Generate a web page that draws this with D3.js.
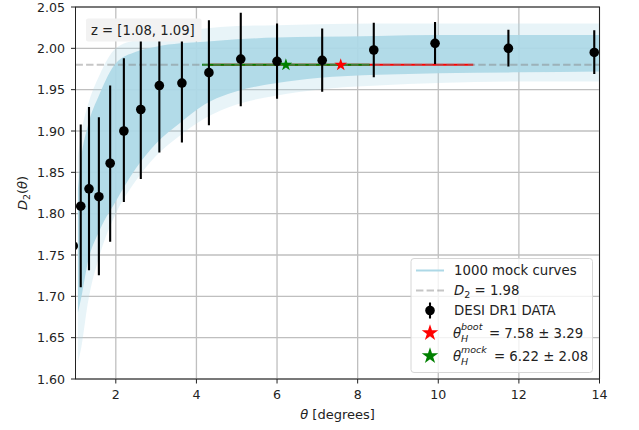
<!DOCTYPE html>
<html>
<head>
<meta charset="utf-8">
<script src="https://cdn.jsdelivr.net/npm/d3@7"></script>
<style>
body { margin: 0; background: #fff; }
svg { font-family: "DejaVu Sans", sans-serif; }
</style>
</head>
<body>
<svg id="chart" width="639" height="430"></svg>
<script>
// DESI DR1 points
var theta = [0.945, 1.13, 1.335, 1.58, 1.86, 2.2, 2.62, 3.08, 3.64, 4.31, 5.10, 6.0, 7.12, 8.40, 9.92, 11.74, 13.87];
var d2 = [1.761, 1.809, 1.830, 1.8205, 1.861, 1.900, 1.926, 1.955, 1.958, 1.9706, 1.987, 1.9843, 1.9855, 1.998, 2.006, 2.000, 1.995];
var d2Low = [1.66, 1.711, 1.7315, 1.7254, 1.766, 1.814, 1.842, 1.874, 1.886, 1.907, 1.930, 1.939, 1.9475, 1.965, 1.981, 1.978, 1.969];
var d2High = [1.86, 1.908, 1.929, 1.9166, 1.955, 1.988, 2.012, 2.03, 2.028, 2.034, 2.043, 2.030, 2.024, 2.031, 2.032, 2.0225, 2.022];

// envelope of the 1000 mock curves
var bandTheta = [1.06, 1.15, 1.3, 1.6, 2.0, 2.5, 3.0, 3.6, 4.2, 5, 6, 7, 8.5, 10, 12, 14];
var outerLo = [1.62, 1.64, 1.69, 1.75, 1.80, 1.84, 1.87, 1.895, 1.915, 1.932, 1.943, 1.95, 1.955, 1.958, 1.96, 1.96];
var innerLo = [1.68, 1.70, 1.74, 1.78, 1.815, 1.855, 1.885, 1.91, 1.932, 1.948, 1.958, 1.964, 1.968, 1.970, 1.971, 1.972];
var innerHi = [1.83, 1.87, 1.905, 1.945, 1.982, 1.996, 2.002, 2.006, 2.008, 2.011, 2.013, 2.014, 2.015, 2.016, 2.016, 2.016];
var outerHi = [1.87, 1.90, 1.93, 1.968, 2.0, 2.01, 2.015, 2.02, 2.024, 2.027, 2.028, 2.029, 2.03, 2.03, 2.03, 2.03];

var d2Plateau = 1.98;
var thetaBoot = 7.58, thetaBootErr = 3.29;
var thetaMock = 6.22, thetaMockErr = 2.08;

var xTicks = [2, 4, 6, 8, 10, 12, 14];
var yTicks = [1.60, 1.65, 1.70, 1.75, 1.80, 1.85, 1.90, 1.95, 2.00, 2.05];

var pLeft = 75.5, pRight = 599.5, pTop = 7, pBottom = 379;
var x = d3.scaleLinear().domain([1, 14]).range([pLeft, pRight]);
var y = d3.scaleLinear().domain([1.6, 2.05]).range([pBottom, pTop]);

var svg = d3.select('#chart');

svg.append('clipPath').attr('id', 'plotclip')
    .append('rect')
    .attr('x', pLeft).attr('y', pTop)
    .attr('width', pRight - pLeft).attr('height', pBottom - pTop);

// grid
var grid = svg.append('g').attr('stroke', '#b0b0b0').attr('stroke-width', 1.3).attr('opacity', 0.8);
xTicks.forEach(function(t) {
    grid.append('line').attr('x1', x(t)).attr('x2', x(t)).attr('y1', pTop).attr('y2', pBottom);
});
yTicks.forEach(function(t) {
    grid.append('line').attr('x1', pLeft).attr('x2', pRight).attr('y1', y(t)).attr('y2', y(t));
});

var plot = svg.append('g').attr('clip-path', 'url(#plotclip)');

// mock band
var bandRows = bandTheta.map(function(t, i) {
    return { t: t, ol: outerLo[i], il: innerLo[i], ih: innerHi[i], oh: outerHi[i] };
});
var outerArea = d3.area().curve(d3.curveMonotoneX)
    .x(function(d) { return x(d.t); })
    .y0(function(d) { return y(d.ol); })
    .y1(function(d) { return y(d.oh); });
var innerArea = d3.area().curve(d3.curveMonotoneX)
    .x(function(d) { return x(d.t); })
    .y0(function(d) { return y(d.il); })
    .y1(function(d) { return y(d.ih); });
plot.append('path').datum(bandRows).attr('d', outerArea)
    .attr('fill', '#add8e6').attr('opacity', 0.28);
plot.append('path').datum(bandRows).attr('d', innerArea)
    .attr('fill', '#add8e6').attr('opacity', 0.92);

// theta_H ranges
plot.append('line')
    .attr('x1', x(thetaBoot - thetaBootErr)).attr('x2', x(thetaBoot + thetaBootErr))
    .attr('y1', y(d2Plateau)).attr('y2', y(d2Plateau))
    .attr('stroke', 'red').attr('stroke-width', 2);
plot.append('line')
    .attr('x1', x(thetaMock - thetaMockErr)).attr('x2', x(thetaMock + thetaMockErr))
    .attr('y1', y(d2Plateau)).attr('y2', y(d2Plateau))
    .attr('stroke', 'green').attr('stroke-width', 2);

// plateau line
plot.append('line')
    .attr('x1', x(1)).attr('x2', x(14))
    .attr('y1', y(d2Plateau)).attr('y2', y(d2Plateau))
    .attr('stroke', 'gray').attr('stroke-width', 2)
    .attr('stroke-dasharray', '7.4,3.2').attr('opacity', 0.45);

// data with error bars
theta.forEach(function(t, i) {
    plot.append('line')
        .attr('x1', x(t)).attr('x2', x(t))
        .attr('y1', y(d2Low[i])).attr('y2', y(d2High[i]))
        .attr('stroke', 'black').attr('stroke-width', 2.1);
    plot.append('circle')
        .attr('cx', x(t)).attr('cy', y(d2[i])).attr('r', 4.8)
        .attr('fill', 'black');
});

// stars
var star = d3.symbol().type(d3.symbolStar).size(50);
plot.append('path').attr('d', star)
    .attr('transform', 'translate(' + x(thetaBoot) + ',' + y(d2Plateau) + ')')
    .attr('fill', 'red');
plot.append('path').attr('d', star)
    .attr('transform', 'translate(' + x(thetaMock) + ',' + y(d2Plateau) + ')')
    .attr('fill', 'green');

// redshift label
svg.append('rect').attr('x', 86).attr('y', 18.5).attr('width', 115.5).attr('height', 23)
    .attr('rx', 2).attr('fill', '#f2f2f2');
svg.append('text').attr('x', 91).attr('y', 34.5)
    .attr('font-size', 13.2).attr('fill', '#222')
    .text('z = [1.08, 1.09]');

// spines
svg.append('rect').attr('x', pLeft).attr('y', pTop)
    .attr('width', pRight - pLeft).attr('height', pBottom - pTop)
    .attr('fill', 'none').attr('stroke', '#222').attr('stroke-width', 1);

// ticks
var axes = svg.append('g').attr('font-size', 12.6).attr('fill', '#222');
xTicks.forEach(function(t) {
    axes.append('line').attr('x1', x(t)).attr('x2', x(t)).attr('y1', pBottom).attr('y2', pBottom + 4.5)
        .attr('stroke', '#222');
    axes.append('text').attr('x', x(t)).attr('y', pBottom + 20)
        .attr('text-anchor', 'middle').text(t);
});
yTicks.forEach(function(t) {
    axes.append('line').attr('x1', pLeft - 4.5).attr('x2', pLeft).attr('y1', y(t)).attr('y2', y(t))
        .attr('stroke', '#222');
    axes.append('text').attr('x', pLeft - 10.5).attr('y', y(t) + 4.5)
        .attr('text-anchor', 'end').text(t.toFixed(2));
});

// axis labels
var xl = axes.append('text').attr('x', (pLeft + pRight) / 2).attr('y', 419)
    .attr('font-size', 13).attr('text-anchor', 'middle');
xl.append('tspan').attr('font-style', 'italic').text('θ');
xl.append('tspan').text(' [degrees]');

var yl = axes.append('text').attr('transform', 'translate(27,' + ((pTop + pBottom) / 2) + ') rotate(-90)')
    .attr('font-size', 13).attr('text-anchor', 'middle');
yl.append('tspan').attr('font-style', 'italic').text('D');
yl.append('tspan').attr('font-size', 9.5).attr('dy', 3).text('2');
yl.append('tspan').attr('dy', -3).text('(');
yl.append('tspan').attr('font-style', 'italic').text('θ');
yl.append('tspan').text(')');

// legend
var lg = svg.append('g').attr('font-size', 13.3).attr('fill', '#222');
lg.append('rect').attr('x', 411).attr('y', 258.5).attr('width', 181.5).attr('height', 114)
    .attr('rx', 3).attr('fill', 'white').attr('fill-opacity', 0.8)
    .attr('stroke', '#d6d6d6').attr('stroke-width', 1);

var hx0 = 416, hx1 = 444, hc = 430, tx = 454;
var rowY = [270.5, 290.5, 310.5, 333, 356];

lg.append('line').attr('x1', hx0).attr('x2', hx1).attr('y1', rowY[0]).attr('y2', rowY[0])
    .attr('stroke', '#add8e6').attr('stroke-width', 2);
lg.append('text').attr('x', tx).attr('y', rowY[0] + 4.8).text('1000 mock curves');

lg.append('line').attr('x1', hx0).attr('x2', hx1).attr('y1', rowY[1]).attr('y2', rowY[1])
    .attr('stroke', 'gray').attr('stroke-width', 2).attr('opacity', 0.45)
    .attr('stroke-dasharray', '7.4,3.2');
var t1 = lg.append('text').attr('x', tx).attr('y', rowY[1] + 4.8);
t1.append('tspan').attr('font-style', 'italic').text('D');
t1.append('tspan').attr('font-size', 9.5).attr('dy', 3).text('2');
t1.append('tspan').attr('dy', -3).text(' = 1.98');

lg.append('line').attr('x1', hc).attr('x2', hc).attr('y1', rowY[2] - 8).attr('y2', rowY[2] + 8)
    .attr('stroke', 'black').attr('stroke-width', 2.1);
lg.append('circle').attr('cx', hc).attr('cy', rowY[2]).attr('r', 4.8).attr('fill', 'black');
lg.append('text').attr('x', tx).attr('y', rowY[2] + 4.8).text('DESI DR1 DATA');

var legStar = d3.symbol().type(d3.symbolStar).size(85);
function thetaRow(yy, color, sup, val, err) {
    lg.append('path').attr('d', legStar)
        .attr('transform', 'translate(' + hc + ',' + yy + ')').attr('fill', color);
    var t = lg.append('text').attr('x', tx - 1).attr('y', yy + 4.8);
    t.append('tspan').attr('font-style', 'italic').text('θ');
    var sx = tx + 7;
    lg.append('text').attr('x', sx).attr('y', yy - 3).attr('font-size', 9.5)
        .attr('font-style', 'italic').text(sup);
    lg.append('text').attr('x', sx).attr('y', yy + 8.5).attr('font-size', 9.5)
        .attr('font-style', 'italic').text('H');
    var w = sup === 'boot' ? 28 : 33;
    lg.append('text').attr('x', sx + w).attr('y', yy + 4.8)
        .text('= ' + val.toFixed(2) + ' ± ' + err.toFixed(2));
}
thetaRow(rowY[3], 'red', 'boot', thetaBoot, thetaBootErr);
thetaRow(rowY[4], 'green', 'mock', thetaMock, thetaMockErr);
</script>
</body>
</html>
